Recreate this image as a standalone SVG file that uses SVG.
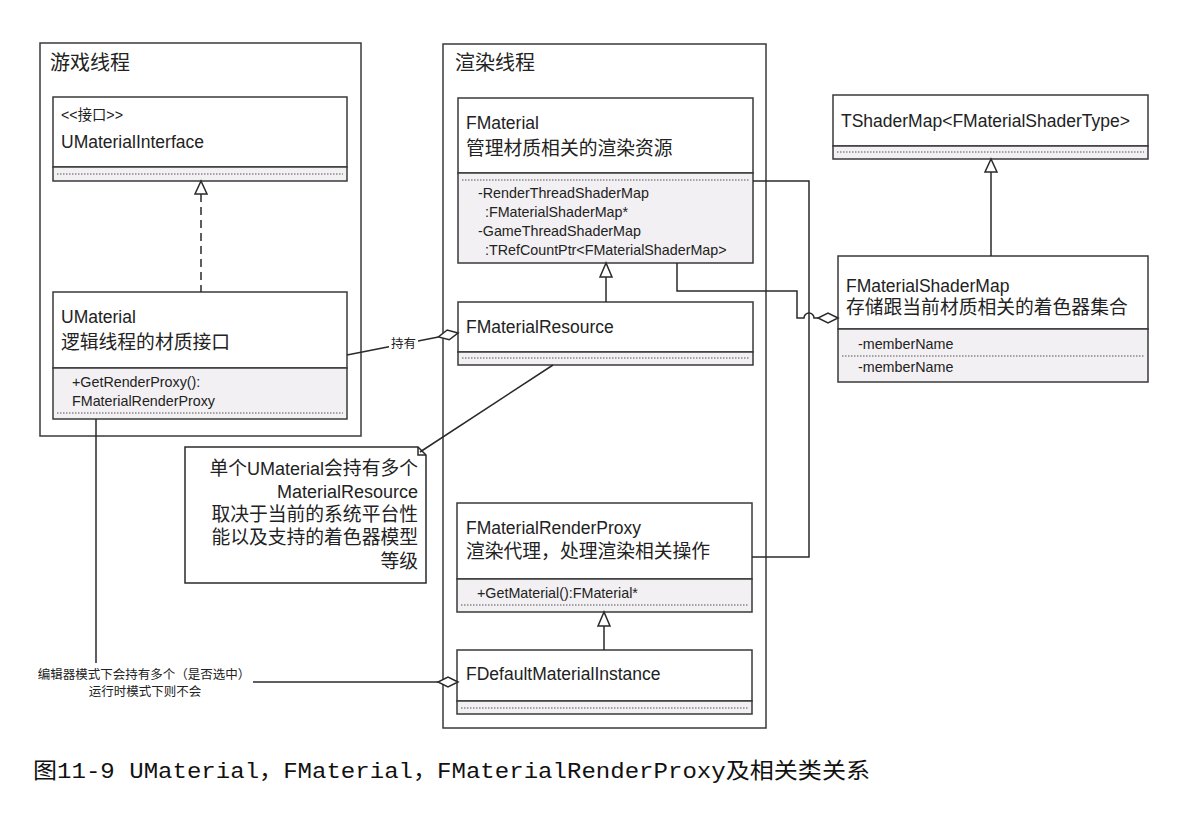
<svg xmlns="http://www.w3.org/2000/svg" width="1177" height="821" viewBox="0 0 1177 821">
<style>
text{font-family:"Liberation Sans","Noto Sans CJK SC",sans-serif;fill:#222}
.frame{fill:#fff;stroke:#3a3a3a;stroke-width:1.5}
.hd{fill:#fff;stroke:#3a3a3a;stroke-width:1.5}
.cp{fill:#f2f0f2;stroke:#3a3a3a;stroke-width:1.5}
.dot{stroke:#555;stroke-width:1;stroke-dasharray:1.5 1.5;fill:none}
.ln{fill:none;stroke:#2a2a2a;stroke-width:1.5}
.tri{fill:#fff;stroke:#2a2a2a;stroke-width:1.5}
.t{font-size:17.5px}
.c{font-size:18.8px}
.m{font-size:14.3px}
.th{font-size:20px}
.lb{font-size:12.5px}
</style>
<rect width="1177" height="821" fill="#fff"/>

<g id="gameThread">
<rect class="frame" x="40" y="43" width="321" height="393"/>
<text class="th" x="50" y="70">游戏线程</text>
</g>
<g id="renderThread">
<rect class="frame" x="443" y="44" width="323" height="684"/>
<text class="th" x="455" y="70">渲染线程</text>
</g>

<g id="UMaterialInterface">
<rect class="hd" x="53" y="97" width="294" height="70"/>
<rect class="cp" x="53" y="167" width="294" height="14"/>
<line class="dot" x1="57" y1="174" x2="343" y2="174"/>
<text class="m" x="61" y="120">&lt;&lt;接口&gt;&gt;</text>
<text class="t" x="61" y="148">UMaterialInterface</text>
</g>

<g id="UMaterial">
<rect class="hd" x="53" y="292" width="294" height="76"/>
<rect class="cp" x="53" y="368" width="294" height="51"/>
<line class="dot" x1="57" y1="413" x2="343" y2="413"/>
<text class="t" x="61" y="323">UMaterial</text>
<text class="c" x="61" y="349">逻辑线程的材质接口</text>
<text class="m" x="72" y="387">+GetRenderProxy():</text>
<text class="m" x="72" y="406">FMaterialRenderProxy</text>
</g>

<g id="FMaterial">
<rect class="hd" x="458" y="98" width="295" height="75"/>
<rect class="cp" x="458" y="173" width="295" height="90"/>
<line class="dot" x1="462" y1="180" x2="749" y2="180"/>
<text class="t" x="466" y="129">FMaterial</text>
<text class="c" x="466" y="155">管理材质相关的渲染资源</text>
<text class="m" x="478" y="198">-RenderThreadShaderMap</text>
<text class="m" x="485" y="217">:FMaterialShaderMap*</text>
<text class="m" x="478" y="236">-GameThreadShaderMap</text>
<text class="m" x="485" y="255">:TRefCountPtr&lt;FMaterialShaderMap&gt;</text>
</g>

<g id="FMaterialResource">
<rect class="hd" x="458" y="302" width="295" height="50"/>
<rect class="cp" x="458" y="352" width="295" height="13"/>
<line class="dot" x1="462" y1="358" x2="749" y2="358"/>
<text class="t" x="466" y="333">FMaterialResource</text>
</g>

<g id="TShaderMap">
<rect class="hd" x="833" y="95" width="315" height="51"/>
<rect class="cp" x="833" y="146" width="315" height="13"/>
<line class="dot" x1="837" y1="152" x2="1144" y2="152"/>
<text class="t" x="841" y="127">TShaderMap&lt;FMaterialShaderType&gt;</text>
</g>

<g id="FMaterialShaderMap">
<rect class="hd" x="838" y="256" width="310" height="73"/>
<rect class="cp" x="838" y="329" width="310" height="53"/>
<line class="dot" x1="842" y1="356" x2="1144" y2="356"/>
<text class="t" x="846" y="292">FMaterialShaderMap</text>
<text class="c" x="846" y="314">存储跟当前材质相关的着色器集合</text>
<text class="m" x="858" y="349">-memberName</text>
<text class="m" x="858" y="372">-memberName</text>
</g>

<g id="FMaterialRenderProxy">
<rect class="hd" x="457" y="503" width="295" height="76"/>
<rect class="cp" x="457" y="579" width="295" height="33"/>
<line class="dot" x1="461" y1="605" x2="748" y2="605"/>
<text class="t" x="466" y="534">FMaterialRenderProxy</text>
<text class="c" x="466" y="558">渲染代理，处理渲染相关操作</text>
<text class="m" x="477" y="598">+GetMaterial():FMaterial*</text>
</g>

<g id="FDefaultMaterialInstance">
<rect class="hd" x="457" y="650" width="295" height="51"/>
<rect class="cp" x="457" y="701" width="295" height="13"/>
<line class="dot" x1="461" y1="708" x2="748" y2="708"/>
<text class="t" x="466" y="680">FDefaultMaterialInstance</text>
</g>

<g id="note">
<path class="ln" d="M185,447 H418 L426,455 V583 H185 Z" fill="#fff"/>
<path class="ln" d="M418,447 V455 H426"/>
<text class="c" text-anchor="end" x="418" y="475">单个<tspan font-size="18">UMaterial</tspan>会持有多个</text>
<text text-anchor="end" x="418" y="498" font-size="18">MaterialResource</text>
<text class="c" text-anchor="end" x="418" y="521">取决于当前的系统平台性</text>
<text class="c" text-anchor="end" x="418" y="544">能以及支持的着色器模型</text>
<text class="c" text-anchor="end" x="418" y="568">等级</text>
</g>

<g id="connectors">
<line class="ln" x1="201" y1="194" x2="201" y2="292" stroke-dasharray="8 5"/>
<polygon class="tri" points="201,181 195,194 207,194"/>
<line class="ln" x1="606" y1="277" x2="606" y2="302"/>
<polygon class="tri" points="606,263 600,277 612,277"/>
<line class="ln" x1="991" y1="172" x2="991" y2="256"/>
<polygon class="tri" points="991,159 985,172 997,172"/>
<line class="ln" x1="604" y1="626" x2="604" y2="650"/>
<polygon class="tri" points="604,612 598,626 610,626"/>
<path class="ln" d="M753,181 H809 V557 H752"/>
<path class="ln" d="M677,263 V291 H797 V318 H804 A5,5 0 0 1 814,318 H818"/>
<polygon class="tri" points="838,318 828,313 818,318 828,323"/>
<line class="ln" x1="347" y1="355" x2="438.4" y2="336.9"/>
<polygon class="tri" points="458,333 447.2,330 438.4,336.9 449.2,339.8"/>
<rect x="389" y="335" width="29" height="16" fill="#fff"/>
<text class="lb" x="403.5" y="348" text-anchor="middle" font-size="13">持有</text>
<line class="ln" x1="553" y1="365" x2="420" y2="452"/>
<path class="ln" d="M96,419 V663"/>
<line class="ln" x1="253" y1="682" x2="438" y2="682"/>
<polygon class="tri" points="458,682 448,677 438,682 448,687"/>
<text class="lb" x="144" y="679" text-anchor="middle">编辑器模式下会持有多个（是否选中）</text>
<text class="lb" x="145" y="696" text-anchor="middle">运行时模式下则不会</text>
</g>

<text x="33" y="778" font-size="22" textLength="837" lengthAdjust="spacingAndGlyphs" style="font-family:'Liberation Mono','Noto Sans CJK SC',monospace;fill:#111">图11-9  UMaterial，FMaterial，FMaterialRenderProxy及相关类关系</text>
</svg>
